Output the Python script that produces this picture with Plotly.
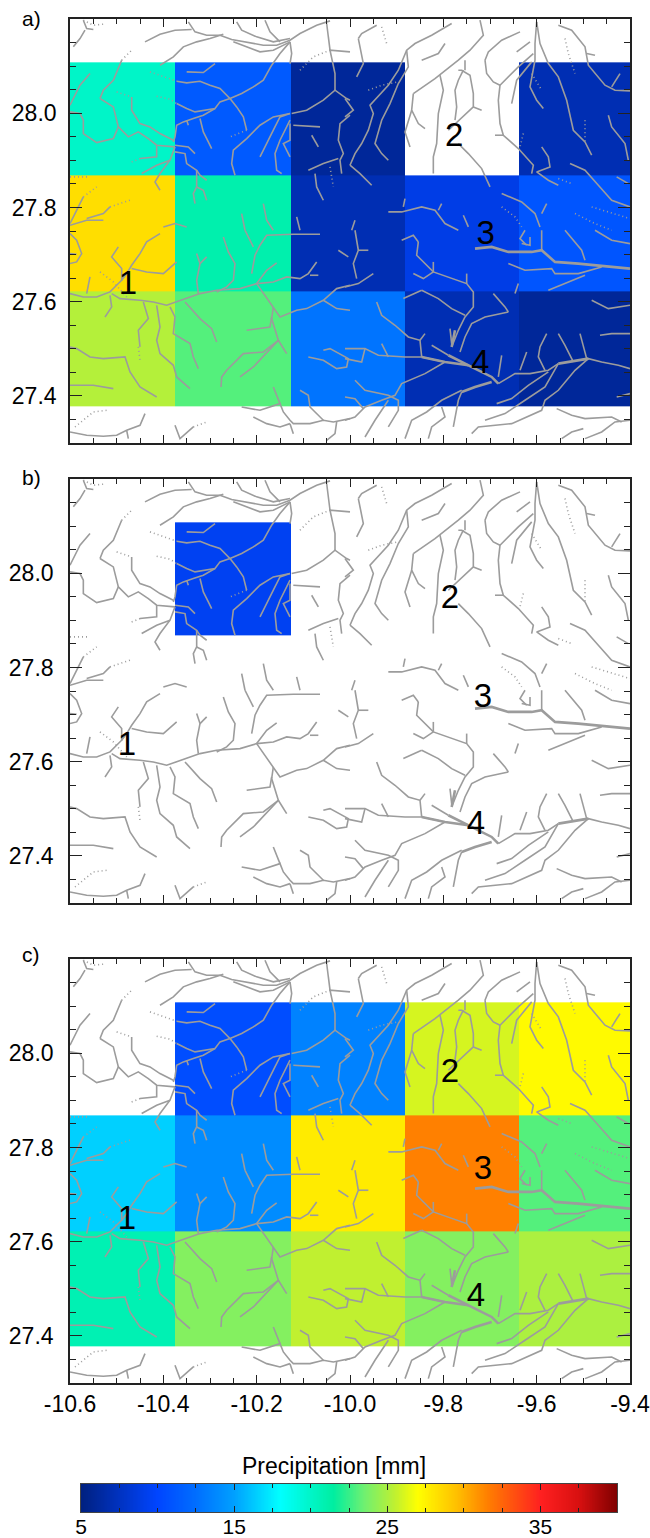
import numpy as np
import plotly.graph_objects as go

# ---- gridded precipitation (mm), rows south -> north
CELL_LON_EDGES = [-10.6, -10.374, -10.126, -9.882, -9.637, -9.4]
CELL_LAT_EDGES = [27.377, 27.622, 27.868, 28.108]
PRECIP_A = [[25.2, 23, 12.8, 7, 6],
            [28.3, 21, 7, 9, 11],
            [20, 11.3, 6, None, 7]]
PRECIP_B = [[None, None, None, None, None],
            [None, None, None, None, None],
            [None, 9.5, None, None, None]]
PRECIP_C = [[20.8, 24, 25.5, 24, 25],
            [16.5, 14, 27.8, 31.5, 23],
            [None, 10.5, 13.5, 26, 27.2]]
PANEL_TAGS = ["a)", "b)", "c)"]

STATION_NAMES = ["1", "2", "3", "4"]
STATION_LON_A = [-10.476, -9.777, -9.709, -9.721]
STATION_LAT_A = [27.633, 27.947, 27.74, 27.467]
STATION_LON_B = [-10.478, -9.786, -9.715, -9.73]
STATION_LAT_B = [27.631, 27.943, 27.734, 27.465]
STATION_LON_C = [-10.478, -9.786, -9.715, -9.73]
STATION_LAT_C = [27.644, 27.956, 27.75, 27.48]

LON_TICKS = [-10.6, -10.4, -10.2, -10.0, -9.8, -9.6, -9.4]
LAT_TICKS = [27.4, 27.6, 27.8, 28.0]
SCALE_TICKS = [5, 15, 25, 35]

# ---- river network, digitised on map sheets (sheet units, see sheet_to_lonlat)
RIVER_NW = [
 [70,30,80,55,100,58],[75,60,60,85,40,110],
 [385,35,405,65,440,75,480,75,515,88,560,95,610,105,650,105,690,90,720,70,770,45,810,32],
 [255,95,300,72,345,60,395,58],[300,165,340,140,370,110,410,95,450,85,490,72],
 [520,95,560,110,600,125,640,120,690,95],[530,35,545,60,590,80,640,95,690,85],[615,30,630,65,660,95],
 [690,95,695,130,690,160],
 [690,95,660,130,635,165,610,210,580,230,545,250,510,265,480,235,450,225,420,213,380,218,350,213],
 [380,185,430,187,465,160],
 [510,265,480,275,465,295,430,300,405,305,380,295,350,280],
 [510,265,530,290,550,320,560,360],
 [465,295,430,315,400,325,370,335,350,345,345,380,340,395],
 [420,325,430,365,445,395,455,415],[385,345,380,330],
 [215,260,215,300,240,340,270,350,300,370,340,390],
 [120,265,130,240,160,210,185,150],
 [120,265,160,290,175,350,205,380,235,365,265,385,290,405,345,410],
 [175,350,160,385,110,397,70,370,70,330,60,310,30,305],
 [30,285,60,225,90,190],
 [345,410,330,450,300,490,285,515,300,540],
 [345,425,375,430,380,460,410,480,420,495,440,510],
 [345,405,385,410,405,430],
 [410,480,410,530,400,550,405,580],[410,530,430,540,440,570],
 [290,405,290,440,240,445],[245,490,290,465,330,450],
 [690,310,640,320,600,345,560,385,520,420,515,460,525,495],
 [690,310,660,320,640,360,620,400,600,440],
 [690,330,660,390,645,430,650,480,665,490],
 [690,340,690,390,670,400,690,440],
 [695,310,740,300,790,270,825,240,860,265,870,270],
 [825,240,825,190,810,120,870,125],[810,120,800,40],
 [700,345,780,350],[755,375,775,410],
 [870,315,840,340,835,390,850,430,840,450,845,490],
 [745,480,790,460,835,445],[765,490,770,530,790,570],
 [30,640,50,600,70,560],[30,645,80,630,130,630],[80,625,130,610,150,590],
 [310,650,345,640,380,650],[545,610,555,660],[610,580,620,630,640,660],[710,620,720,660],
]
RIVER_NW_DOT = [
 [270,185,310,200,350,213],[290,258,330,267,350,280],[560,360,510,380],[170,245,215,260],
 [185,150,215,120],[720,180,760,140,810,120],[810,470,820,530],[70,560,110,530],[150,590,210,570],[30,500,90,500],
 [215,455,240,445],[70,30,100,45,130,42],
]
RIVER_NE = [
 [40,85,50,70,95,45],[40,85,50,130,55,160,35,200],
 [15,465,30,430,50,400,70,360,85,310,75,285,130,225,160,180,185,120,210,100,260,75,320,40],
 [185,120,190,170,160,220,135,280,110,330,95,380,90,400,110,430,130,450],
 [15,465,45,490,80,525],[230,150,280,130,300,100],
 [205,250,270,205,340,150,375,120,415,75,405,30],
 [205,250,200,300,220,340,240,355],[200,300,180,365,195,410],
 [285,195,295,240,280,310,275,400,265,440,265,490],
 [340,180,350,180,375,195,385,250,385,290,330,340,310,360],
 [355,180,340,210,330,240,335,290,330,330],[385,290,410,300],[360,150,360,180],
 [340,400,370,430,410,475,435,530],
 [420,150,430,125,470,90,525,65],
 [420,150,425,190,445,215,465,225,460,270,465,340,475,375,520,415,565,465,560,490],
 [450,375,475,375],[465,225,520,170,565,130],
 [575,35,570,100,570,150,555,230,575,270,595,295],
 [500,280,515,210,560,155],[515,125,555,95],
 [575,35,585,100,610,160,640,200,665,270,685,360,720,395,740,435],
 [640,45,680,60,720,110,730,165,780,225,810,240,855,242],[725,130,750,135],[800,230,825,190],
 [790,315,800,350,840,400,850,450],
 [590,410,610,440,615,470,575,485,610,510,640,525],
 [675,460,720,480,760,525,800,570,855,590],[815,500,850,520],
 [470,550,530,575,570,610,585,650],[605,580,590,610],
 [130,605,170,605,230,590,270,600,300,640,340,660],[180,565,175,590],[280,600,290,580],
 [355,615,370,650],[0,265,25,300,0,320],[30,630,20,660],
]
RIVER_NE_DOT = [
 [110,50,125,100],[70,240,110,225,160,215],[660,85,670,130,690,190],[640,505,680,520],
 [470,590,510,620,530,650],[690,610,750,640,800,660],[740,590,810,610,855,625],
 [720,330,720,395],[560,190,590,240],[535,370,525,410],
]
RIVER_SW = [
 [30,10,50,30,65,70,50,95,30,100],[30,70,50,72],
 [30,190,70,200,110,200,150,185,185,150,185,115,155,80,175,50],
 [185,150,200,130,215,105,240,70,260,35,300,10],
 [215,115,260,125,310,130,350,95],
 [155,190,180,205,240,210,280,215,320,225,375,205,420,190,470,180,540,175,590,160,640,155,680,140,720,145,745,130,770,95],
 [750,135,775,135],[590,160,620,120,650,98],
 [590,160,640,230,660,260,710,240,740,235,790,210,830,175,870,165],
 [790,210,830,235,870,240],[635,260,630,290,560,300],
 [640,230,635,265,655,330,610,380,580,410,540,440],
 [655,330,610,365,550,370,500,420,485,440,483,470],[655,330,680,370],
 [575,130,585,75,600,45,620,15,700,12,780,12],
 [490,20,505,65,525,100,520,150,500,170,470,185],[555,0,580,50],
 [410,70,420,100,410,150,415,190],[420,100,440,80],[80,190,90,140],
 [150,195,155,230,135,260],
 [250,215,265,265,235,300,240,350],
 [290,225,300,290,290,330,300,370,340,405,350,440,390,475],
 [330,230,345,260,340,310,390,340,400,380,415,415],
 [375,215,420,265,455,295,470,335],
 [30,350,50,355,90,380,130,385,195,380,210,425,240,470,290,500],
 [30,465,100,465,160,475],
 [30,605,80,615,130,618,170,615,200,600,240,585,255,550],[200,600,205,625],
 [345,585,360,625,400,590],
 [545,530,600,540,660,520,670,545,690,570,700,580,750,580,790,570,820,575,870,565],
 [580,560,620,580,660,590,690,580],[640,470,660,520],
 [720,480,745,495,750,530,790,570],[830,575,825,610,800,630],[690,580,700,610],
 [745,380,790,390,830,415,860,410,865,385,810,355,790,360],[835,60,865,80],
]
RIVER_SW_DOT = [
 [45,590,100,545,140,540],[400,590,440,575],[120,125,160,155,200,200],[235,350,240,390],
]
RIVER_SE = [
 [0,170,40,160,85,130],[30,0,40,60,25,100,35,145],[40,60,70,60],
 [590,60,590,0],[530,40,555,45,555,20],[540,0,525,25,545,45],
 [660,0,710,60,720,90],[750,0,800,30,855,40],
 [490,100,540,120,620,115,630,130,700,130,770,110],[610,180,680,150,720,135],
 [220,35,215,75,265,125,320,145,365,160,385,185,385,230,360,260,340,300,320,350],
 [170,30,205,15,220,35],[205,130,235,145,265,125],[265,95,265,125],[365,130,365,160],
 [230,180,280,205,320,235,360,255],[175,205,230,180],
 [95,215,110,255,150,285,190,320,225,330,230,380],[240,310,225,330],
 [445,190,480,230,490,245],[490,245,420,260,380,280,360,320,345,365],[520,160,510,190],
 [315,295,320,340],[260,345,310,375],
 [0,385,50,395,60,355],[0,355,60,355,100,375,180,380,230,380,300,395],[110,340,130,380],
 [300,395,240,430,170,460,150,495,110,510,60,530,30,560,0,570],
 [30,450,60,480,130,495,160,510,160,540,130,590],[0,500,30,505,55,535],
 [60,620,90,570,130,510],
 [460,460,510,430,555,430,610,420,640,400],[700,390,730,385,770,395,820,405,855,415],
 [350,485,340,510,325,590],[350,480,290,510,245,545,200,570,180,625],
 [600,420,580,380,585,350,605,310],[640,310,660,345,685,395],[705,310,725,385],
 [470,375,460,440],[545,365,525,420],
 [610,425,550,465,500,505,455,520],
 [640,400,600,470,540,510,480,550,420,570],
 [730,385,690,420,640,480,600,510,590,540,500,580,400,590,380,610],
 [290,530,300,560,260,590,250,625],
 [855,570,810,575,770,605,720,625],[635,535,680,555,720,565,800,560,830,575],
 [715,595,680,605,650,625],[740,210,790,235,855,225],[765,315,800,310,855,310],[815,500,855,490],
]
RIVER_SE_THICK = [
 [390,55,440,50,490,65,560,65,590,60,630,95,700,100,750,105,855,115],
 [310,375,370,405,440,440,460,460],[640,400,700,390,730,385],
 [440,455,390,470,350,485],[230,380,300,395,370,405],[320,350,330,300],
]

SHEET_OFFSETS = {"NW": (0, 0), "NE": (855, 0), "SW": (0, 660), "SE": (855, 660)}


def sheet_to_lonlat(polylines, sheet):
    du, dv = SHEET_OFFSETS[sheet]
    lons, lats = [], []
    for pl in polylines:
        for i in range(0, len(pl), 2):
            lons.append(-10.6 + (pl[i] + du - 30) / 1400)
            lats.append(28.0 - (pl[i + 1] + dv - 309) / 1413)
        lons.append(None)
        lats.append(None)
    return lons, lats


def merged(*pairs):
    xs, ys = [], []
    for polys, sheet in pairs:
        a, b = sheet_to_lonlat(polys, sheet)
        xs += a
        ys += b
    return xs, ys


MAIN_XY = merged((RIVER_NW, "NW"), (RIVER_NE, "NE"), (RIVER_SW, "SW"), (RIVER_SE, "SE"))
DOT_XY = merged((RIVER_NW_DOT, "NW"), (RIVER_NE_DOT, "NE"), (RIVER_SW_DOT, "SW"))
THICK_XY = merged((RIVER_SE_THICK, "SE"))

COLORSCALE_STOPS = [(5, "#00207f"), (7.5, "#0032c0"), (10, "#0045ff"), (12.5, "#006eff"), (15, "#00a0ff"),
                    (18, "#00ffff"), (20, "#00f5c8"), (21.5, "#00eea0"), (23.5, "#70f070"), (25.5, "#c0f030"),
                    (27, "#ffff00"), (29.5, "#ffc000"), (31.5, "#ff8000"), (35, "#ff2020"), (37.5, "#d81010"),
                    (40, "#7f0000")]
CS = [[(v - 5) / 35, c] for v, c in COLORSCALE_STOPS]

W, H = 650, 1538
AX_L, AX_R = 70, 630
PANELS_PX = [(19, 443), (479, 903), (959, 1383)]
BAR_PX = (1484, 1512)
BAR_L, BAR_R = 81, 617
FONT = "Liberation Sans"
INK = "#222222"
GRAY = "#9c9c9c"
LABEL_STANDOFF = [7, 10, 10]

fig = go.Figure()
layout = {}
panels = [(PRECIP_A, STATION_LON_A, STATION_LAT_A),
          (PRECIP_B, STATION_LON_B, STATION_LAT_B),
          (PRECIP_C, STATION_LON_C, STATION_LAT_C)]
annotations = []
for k, (z, slon, slat) in enumerate(panels):
    xa, ya = ("x", "y") if k == 0 else (f"x{k+1}", f"y{k+1}")
    fig.add_trace(go.Heatmap(x=CELL_LON_EDGES, y=CELL_LAT_EDGES, z=z, zmin=5, zmax=40, colorscale=CS,
                             showscale=False, xaxis=xa, yaxis=ya, hoverongaps=False))
    for (xy, width, dash) in [(DOT_XY, 1.6, "1px,3px"), (MAIN_XY, 1.6, "solid"), (THICK_XY, 2.6, "solid")]:
        fig.add_trace(go.Scatter(x=xy[0], y=xy[1], mode="lines", xaxis=xa, yaxis=ya, showlegend=False,
                                 hoverinfo="skip", line=dict(color=GRAY, width=width, dash=dash),
                                 connectgaps=False))
    fig.add_trace(go.Scatter(x=slon, y=slat, mode="text", text=STATION_NAMES, xaxis=xa, yaxis=ya,
                             showlegend=False, textposition="middle center",
                             textfont=dict(family=FONT, size=33, color="black")))
    top, bot = PANELS_PX[k]
    suffix = "" if k == 0 else str(k + 1)
    layout["xaxis" + suffix] = dict(
        domain=[AX_L / W, AX_R / W], range=[-10.6, -9.4], anchor="y" + suffix, automargin=False,
        tickmode="array", tickvals=LON_TICKS, ticklabeloverflow="allow",
        ticktext=[f"{v:.1f}" for v in LON_TICKS] if k == 2 else [""] * len(LON_TICKS),
        ticks="inside", ticklen=8, tickwidth=1.2, tickcolor=INK, showgrid=False, zeroline=False,
        showline=True, linecolor=INK, linewidth=1.6, mirror="ticks",
        minor=dict(dtick=0.05, tick0=-10.6, ticks="inside", ticklen=5, tickwidth=1, tickcolor=INK, showgrid=False),
        tickfont=dict(family=FONT, size=23, color="black"))
    layout["yaxis" + suffix] = dict(
        domain=[1 - bot / H, 1 - top / H], range=[27.3, 28.2], anchor="x" + suffix, automargin=False,
        tickmode="array", tickvals=LAT_TICKS, ticktext=[f"{v:.1f}" for v in LAT_TICKS],
        ticks="inside", ticklen=12, tickwidth=1.2, tickcolor=INK, showgrid=False, zeroline=False,
        showline=True, linecolor=INK, linewidth=1.6, mirror="ticks",
        minor=dict(dtick=0.05, tick0=27.3, ticks="inside", ticklen=6, tickwidth=1, tickcolor=INK, showgrid=False),
        ticklabelstandoff=LABEL_STANDOFF[k],
        tickfont=dict(family=FONT, size=23, color="black"))
    annotations.append(dict(text=PANEL_TAGS[k], xref="paper", yref="paper", x=31 / W,
                            y=1 - ([18, 478, 954][k]) / H, showarrow=False, xanchor="center", yanchor="middle",
                            font=dict(family=FONT, size=21, color="black")))

# colour ramp legend on its own value axis
ramp = np.linspace(5, 40, 701)
fig.add_trace(go.Heatmap(x=ramp, y=[0, 1], z=[ramp, ramp], zmin=5, zmax=40, colorscale=CS, showscale=False,
                         xaxis="x4", yaxis="y4", hoverinfo="skip"))
layout["xaxis4"] = dict(domain=[BAR_L / W, BAR_R / W], range=[5, 40], anchor="y4", automargin=False, tickmode="array",
                        tickvals=SCALE_TICKS, ticktext=[str(v) for v in SCALE_TICKS], ticklabelstandoff=-4,
                        ticks="inside", ticklen=6, tickwidth=1, tickcolor=INK, showgrid=False, zeroline=False,
                        showline=True, linecolor="#444444", linewidth=1, mirror="ticks",
                        minor=dict(dtick=2.5, tick0=5, ticks="inside", ticklen=4, tickwidth=1, tickcolor=INK),
                        tickfont=dict(family=FONT, size=21, color="black"))
layout["yaxis4"] = dict(domain=[1 - BAR_PX[1] / H, 1 - BAR_PX[0] / H], range=[0, 1], anchor="x4", automargin=False,
                        showticklabels=False, ticks="", showgrid=False, zeroline=False,
                        showline=True, linecolor="#444444", linewidth=1, mirror=True)
annotations.append(dict(text="Precipitation [mm]", xref="paper", yref="paper", x=334 / W, y=1 - 1466 / H,
                        showarrow=False, xanchor="center", yanchor="middle",
                        font=dict(family=FONT, size=23, color="black")))

fig.update_layout(width=W, height=H, margin=dict(l=0, r=0, t=0, b=0), paper_bgcolor="white",
                  plot_bgcolor="white", showlegend=False, annotations=annotations, **layout)
fig.write_html("out.html", config={"displayModeBar": False}, post_script="document.body.style.margin='0';")
